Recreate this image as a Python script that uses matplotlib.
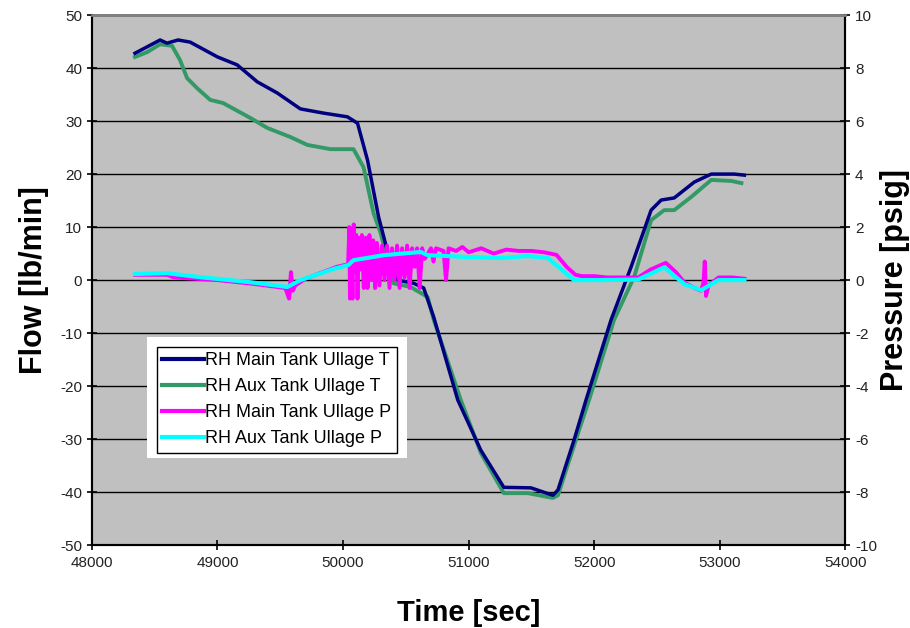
import matplotlib.pyplot as plt
from matplotlib.patches import Rectangle

plt.rcParams['font.family'] = ['Liberation Sans', 'DejaVu Sans']
plt.rcParams['axes.unicode_minus'] = False

# RH Main Tank Ullage T (flow axis)
main_t_x = [48343, 48463, 48543, 48598, 48686, 48782, 49000, 49157, 49317, 49476,
            49660, 49845, 50035, 50115, 50195, 50283, 50380, 50434, 50562, 50642,
            50722, 50913, 51097, 51280, 51496, 51671, 51711, 51839, 51935, 52134,
            52294, 52453, 52533, 52637, 52797, 52932, 53116, 53196]
main_t_y = [42.8, 44.3, 45.3, 44.7, 45.3, 44.9, 42.1, 40.6, 37.4, 35.3,
            32.3, 31.5, 30.8, 29.6, 22.6, 11.9, 3.0, 0.0, -0.6, -1.5,
            -7.0, -22.6, -32.1, -39.1, -39.2, -40.6, -39.6, -30.2, -22.6, -7.5,
            2.5, 13.2, 15.1, 15.5, 18.5, 20.0, 20.0, 19.8]

# RH Aux Tank Ullage T (flow axis)
aux_t_x = [48343, 48439, 48543, 48638, 48702, 48758, 48838, 48942, 49045, 49261,
           49397, 49580, 49716, 49900, 50083, 50163, 50243, 50299, 50402, 50538,
           50674, 50722, 50937, 51097, 51280, 51472, 51671, 51711, 51871, 51959,
           52158, 52318, 52453, 52557, 52637, 52773, 52932, 53092, 53172]
aux_t_y = [42.1, 43.0, 44.5, 44.2, 41.5, 38.1, 36.2, 34.0, 33.4, 30.6,
           28.7, 27.0, 25.5, 24.7, 24.7, 21.3, 12.6, 8.9, -0.6, -1.3,
           -3.2, -7.5, -22.6, -32.6, -40.2, -40.2, -41.1, -40.6, -28.9, -22.6,
           -7.5, 0.6, 11.3, 13.2, 13.2, 15.7, 18.9, 18.7, 18.3]

# RH Main Tank Ullage P (pressure axis)
main_p_x = [48343, 48600, 48650, 49000, 49300, 49540, 49570, 49585, 49600, 49620,
            49700, 49950, 50040, 50050, 50055, 50065, 50075, 50085, 50095, 50105,
            50115, 50125, 50140, 50150, 50165, 50180, 50195, 50210, 50225, 50240,
            50255, 50270, 50290, 50310, 50330, 50350, 50370, 50390, 50410, 50430,
            50450, 50470, 50490, 50510, 50530, 50550, 50570, 50590, 50610, 50630,
            50650, 50700, 50720, 50740, 50800, 50820, 50840, 50900, 50950, 51000,
            51100, 51200, 51300, 51400, 51500, 51600, 51700, 51780, 51850, 51900,
            52000, 52100, 52250, 52350, 52450, 52570, 52650, 52720, 52800, 52850,
            52870, 52880, 52890, 52910, 52990, 53100, 53196]
main_p_y = [0.2, 0.2, 0.1, 0.0, -0.15, -0.3, -0.7, 0.3, -0.4, -0.2,
            0.05, 0.5, 0.6, 2.0, -0.7, 1.8, -0.7, 2.1, 0.3, 1.7,
            -0.7, 1.6, 0.4, 1.7, -0.3, 1.6, -0.3, 1.7, 0.0, 1.5,
            -0.3, 1.4, -0.2, 1.3, 0.0, 1.3, -0.3, 1.2, 0.0, 1.3,
            -0.3, 1.2, 0.1, 1.3, -0.3, 1.2, 0.5, 1.2, -0.3, 1.2,
            0.8, 1.2, 0.7, 1.2, 1.1, 0.0, 1.2, 1.1, 1.25, 1.05,
            1.2, 1.0, 1.15, 1.1, 1.1, 1.05, 0.95, 0.5, 0.2, 0.15,
            0.15, 0.1, 0.1, 0.1, 0.4, 0.65, 0.3, -0.1, -0.3, -0.4,
            -0.1, 0.7, -0.6, -0.2, 0.1, 0.1, 0.05]

# RH Aux Tank Ullage P (pressure axis)
aux_p_x = [48343, 48598, 48862, 49261, 49556, 49660, 49923, 50043, 50083, 50323,
           50618, 50674, 50993, 51256, 51472, 51631, 51839, 52054, 52350, 52557,
           52717, 52852, 52988, 53196]
aux_p_y = [0.23, 0.26, 0.11, -0.08, -0.26, 0.0, 0.42, 0.57, 0.75, 0.94,
           1.06, 0.94, 0.87, 0.83, 0.91, 0.83, 0.0, 0.0, 0.02, 0.48,
           -0.15, -0.38, 0.0, 0.0]

fig = plt.figure(figsize=(9.1, 6.28), dpi=100)
ax = fig.add_axes([0.101, 0.132, 0.828, 0.844])
ax.set_facecolor('#c0c0c0')

l2, = ax.plot(aux_t_x, aux_t_y, color='#339966', lw=2.8, label='RH Aux Tank Ullage T', zorder=3)
l1, = ax.plot(main_t_x, main_t_y, color='#000080', lw=2.5, label='RH Main Tank Ullage T', zorder=4)
ax.set_xlim(48000, 54000)
ax.set_ylim(-50, 50)
ax.set_xticks(range(48000, 54001, 1000))
ax.set_yticks(range(-50, 51, 10))
ax.grid(axis='y', color='black', lw=1)
ax.set_axisbelow(True)

ax2 = ax.twinx()
l3, = ax2.plot(main_p_x, main_p_y, color='#ff00ff', lw=2.8, label='RH Main Tank Ullage P', zorder=5)
l4, = ax2.plot(aux_p_x, aux_p_y, color='#00ffff', lw=3, label='RH Aux Tank Ullage P', zorder=6)
ax2.set_ylim(-10, 10)
ax2.set_yticks(range(-10, 11, 2))

for a in (ax, ax2):
    a.spines['top'].set_color('#808080')
    a.spines['top'].set_linewidth(2)
    for s in ('left', 'right', 'bottom'):
        a.spines[s].set_linewidth(1.5)
    a.tick_params(direction='inout', length=7, width=1.2, labelsize=11,
                  colors='black', labelcolor='#222222')
ax.tick_params(axis='x', pad=4)

ax.set_xlabel('Time [sec]', fontsize=21, fontweight='bold', labelpad=21)
ax.set_ylabel('Flow [lb/min]', fontsize=22, fontweight='bold', labelpad=8)
ax2.set_ylabel('Pressure [psig]', fontsize=22, fontweight='bold', labelpad=2)

ax2.add_patch(Rectangle((0.073, 0.164), 0.345, 0.228, transform=ax2.transAxes,
                        facecolor='white', edgecolor='none', zorder=9))
leg = ax2.legend(handles=[l1, l2, l3, l4], loc='upper left', bbox_to_anchor=(0.086, 0.374),
                 borderaxespad=0, fancybox=False, edgecolor='black', framealpha=1,
                 fontsize=13, handlelength=2.3, handletextpad=0.1, labelspacing=0.5,
                 borderpad=0.3)
leg.get_frame().set_linewidth(1)
leg.set_zorder(10)
for h in leg.get_lines():
    h.set_linewidth(3)

fig.savefig('out.png', dpi=100)
